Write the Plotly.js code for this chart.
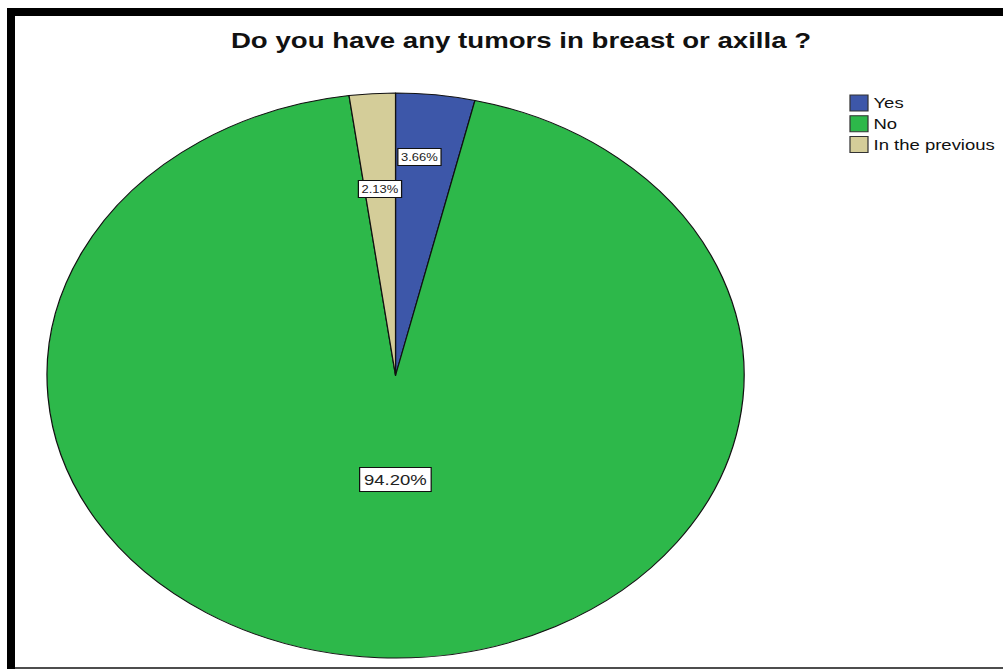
<!DOCTYPE html>
<html>
<head>
<meta charset="utf-8">
<script src="https://cdn.plot.ly/plotly-3.0.1.min.js"></script>
<style>
  html, body { margin: 0; padding: 0; background: #fff; overflow: hidden; }
  /* The chart is laid out narrower and widened horizontally, which turns the pie into an ellipse */
  #chart { width: 813px; height: 669px; transform: scaleX(1.2337); transform-origin: 0 0; }
</style>
</head>
<body>
<div id="chart"></div>
<script>
// ---- data ----
const categories = ['Yes', 'No', 'In the previous'];
const percents = [3.66, 94.20, 2.13];
const chartTitle = 'Do you have any tumors in breast or axilla ?';

// ---- styling ----
const sliceColors = ['#3d57a9', '#2db84a', '#d4cd99'];
const FONT = 'Liberation Sans, Arial, sans-serif';

// ---- geometry (pixels in the un-widened layout) ----
const S = 1.2337;            // horizontal widening factor
const W = 813, H = 669;
const cx = 320.6, cy = 375.5, R = 282.5;   // pie centre and radius
const px = v => v / W;                     // pixel -> paper x
const py = v => 1 - v / H;                 // pixel -> paper y

// value label placement: fraction of radius along each slice's mid angle
const labelRadius = [0.78, 0.37, 0.66];
const labelShift = [-6, 5, 0];
const labelSize = [10.5, 15, 10.5];

const pie = {
  type: 'pie',
  labels: categories,
  values: percents,
  sort: false,
  direction: 'clockwise',
  rotation: 0,
  textinfo: 'none',
  hoverinfo: 'label+percent',
  showlegend: false,
  marker: { colors: sliceColors, line: { color: '#111', width: 1 } },
  domain: { x: [px(cx - R), px(cx + R)], y: [py(cy + R), py(cy - R)] }
};

const total = percents.reduce((a, b) => a + b, 0);
const annotations = [];
let acc = 0;
percents.forEach((v, i) => {
  const mid = 2 * Math.PI * (acc + v / 2) / total;
  acc += v;
  const lx = cx + labelRadius[i] * R * Math.sin(mid);
  const ly = cy - labelRadius[i] * R * Math.cos(mid);
  annotations.push({
    xref: 'paper', yref: 'paper', x: px(lx), y: py(ly),
    xanchor: 'center', yanchor: 'middle', xshift: labelShift[i],
    text: v.toFixed(2) + '%', showarrow: false,
    font: { family: FONT, size: labelSize[i], color: '#222' },
    bgcolor: '#ffffff', bordercolor: '#111', borderwidth: 1,
    borderpad: labelSize[i] > 12 ? 3 : 2
  });
});

// legend: swatch and name for every category
const shapes = [];
const legX0 = 850 / S, legX1 = 868 / S, legTextX = 872 / S;
categories.forEach((name, i) => {
  const yc = 103 + i * 20.7;
  shapes.push({
    type: 'rect', xref: 'paper', yref: 'paper',
    x0: px(legX0), x1: px(legX1), y0: py(yc + 8), y1: py(yc - 8),
    fillcolor: sliceColors[i], line: { color: '#333', width: 1 }
  });
  annotations.push({
    xref: 'paper', yref: 'paper', x: px(legTextX), y: py(yc),
    xanchor: 'left', yanchor: 'middle', text: name, showarrow: false,
    borderpad: 0, font: { family: FONT, size: 15, color: '#111' }
  });
});

// outer frame: heavy top and left rules, thin grey bottom rule
shapes.push(
  { type: 'rect', xref: 'paper', yref: 'paper', x0: px(7 / S), x1: 1, y0: py(16), y1: py(8),
    fillcolor: '#000', line: { width: 0 } },
  { type: 'rect', xref: 'paper', yref: 'paper', x0: px(7 / S), x1: px(15 / S), y0: 0, y1: py(8),
    fillcolor: '#000', line: { width: 0 } },
  { type: 'rect', xref: 'paper', yref: 'paper', x0: px(15 / S), x1: 1, y0: 0, y1: py(667),
    fillcolor: '#4d4d4d', line: { width: 0 } }
);

const layout = {
  width: W, height: H,
  margin: { l: 0, r: 0, t: 0, b: 0 },
  paper_bgcolor: '#ffffff',
  showlegend: false,
  title: {
    text: '<b>' + chartTitle + '</b>',
    x: 521 / 1003, xanchor: 'center',
    y: py(40), yref: 'container', yanchor: 'middle',
    font: { family: FONT, size: 22.4, color: '#111' }
  },
  annotations: annotations,
  shapes: shapes
};

Plotly.newPlot('chart', [pie], layout, { displayModeBar: false, responsive: false });
</script>
</body>
</html>
